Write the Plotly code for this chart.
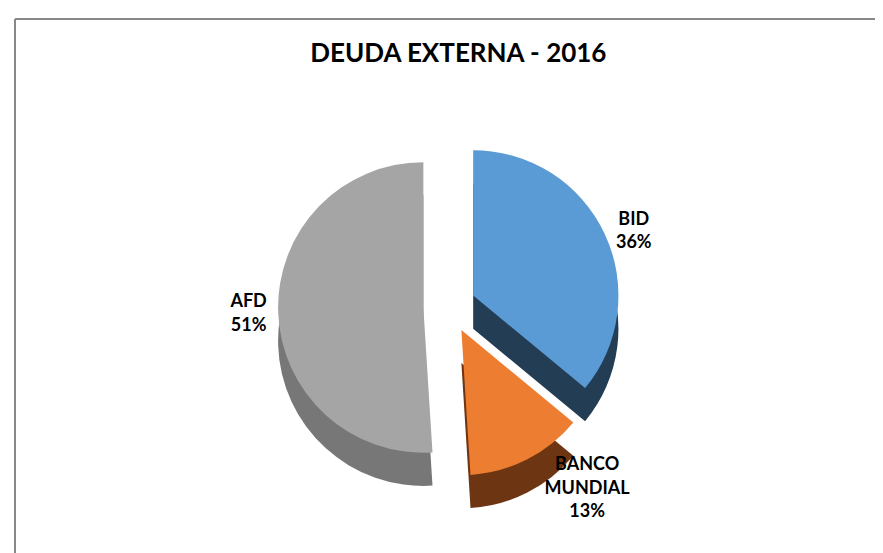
import plotly.graph_objects as go

labels = ["BID", "BANCO<br>MUNDIAL", "AFD"]
values = [36, 13, 51]
colors = ["#5B9BD5", "#ED7D31", "#A5A5A5"]
side_colors = ["#233D55", "#6E3513", "#777777"]
pulls = [0.18, 0.18, 0.18]

dom_y = [0.15, 0.77]
depth = 0.06

W, H = 883, 553

fig = go.Figure()
# side wall (depth) layer
fig.add_trace(go.Pie(
    labels=labels, values=values, sort=False, direction="clockwise", rotation=0,
    marker=dict(colors=side_colors, line=dict(width=0)),
    pull=pulls, textinfo="none", hoverinfo="skip", showlegend=False,
    domain=dict(x=[0.05, 0.95], y=[dom_y[0] - depth, dom_y[1] - depth]),
))
# top face
fig.add_trace(go.Pie(
    labels=labels, values=values, sort=False, direction="clockwise", rotation=0,
    marker=dict(colors=colors, line=dict(width=0)),
    pull=pulls,
    textposition="outside",
    texttemplate="<b>%{label}<br>%{percent:.0%}</b>",
    textfont=dict(family="Lato, Open Sans, Arial", size=18, color="#000000"),
    showlegend=False,
    domain=dict(x=[0.05, 0.95], y=dom_y),
))
fig.update_layout(
    width=W, height=H, autosize=False,
    paper_bgcolor="white",
    margin=dict(l=0, r=0, t=0, b=0, autoexpand=False),
    title=dict(text="<b>DEUDA EXTERNA - 2016</b>", x=0.51, xanchor="center", xref="paper",
               y=1 - 45 / H, yanchor="middle", yref="paper",
               font=dict(family="Lato, Open Sans, Arial", size=26, color="#000000")),
    shapes=[
        dict(type="line", xref="paper", yref="paper", x0=7 / W, y0=0, x1=7 / W, y1=1 - 11 / H,
             line=dict(color="#888888", width=2)),
        dict(type="line", xref="paper", yref="paper", x0=7 / W, y0=1 - 11 / H, x1=1, y1=1 - 11 / H,
             line=dict(color="#888888", width=2)),
    ],
)
fig.write_html("out.html")
